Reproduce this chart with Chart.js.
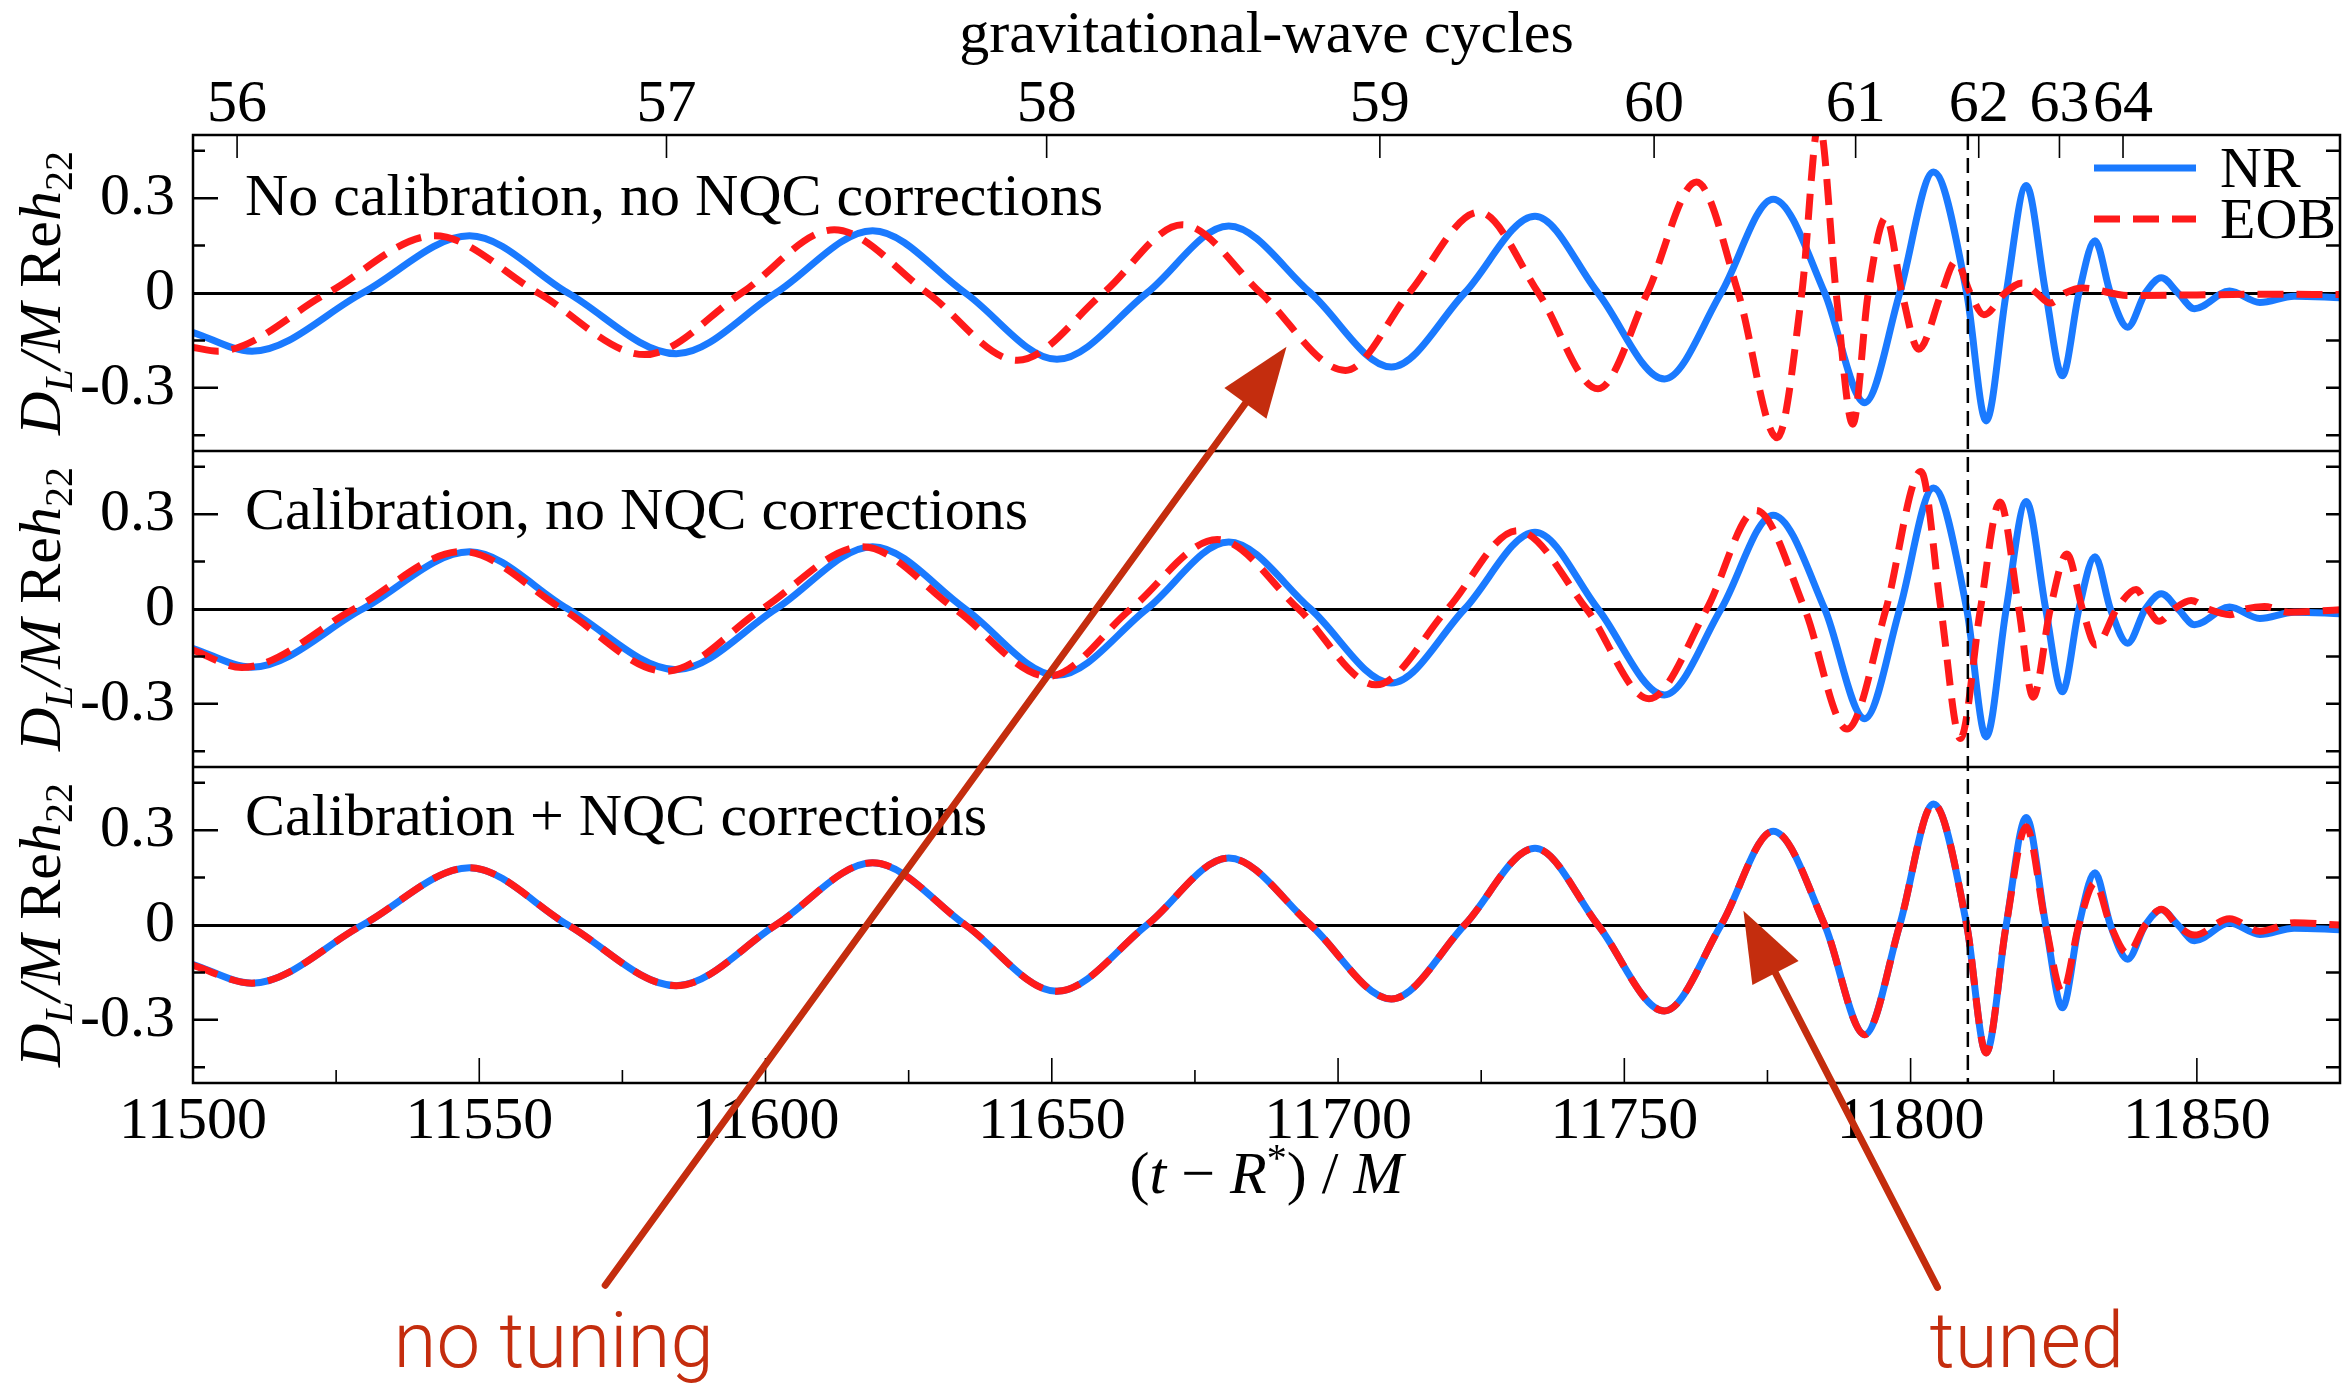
<!DOCTYPE html>
<html lang="en">
<head>
<meta charset="UTF-8">
<title>EOB vs NR waveforms near merger</title>
<script src="https://cdn.jsdelivr.net/npm/chart.js@4.4.1/dist/chart.umd.min.js"></script>
<style>
  html, body { margin: 0; padding: 0; background: #fff; }
  #wrap { width: 2344px; height: 1384px; }
</style>
</head>
<body>
<div id="wrap"><canvas id="wave" width="2344" height="1384"></canvas></div>
<script>
// time axis (t - R*)/M and gravitational-wave cycle marks on the top axis
const timeMin = 11500;
const timeMax = 11875;
const cycleTimes  = [11507.7, 11582.7, 11649.1, 11707.3, 11755.2, 11790.4, 11811.9, 11826.0, 11837.1];
const cycleLabels = ['56', '57', '58', '59', '60', '61', '62', '63', '64'];
const mergerTime = 11810;

// strain ticks shared by the three panels
const strainTicks   = [-0.45, -0.3, -0.15, 0, 0.15, 0.3, 0.45];
const strainLabeled = [-0.3, 0, 0.3];

const panelCaptions = [
  'No calibration, no NQC corrections',
  'Calibration, no NQC corrections',
  'Calibration + NQC corrections'
];

// numerical relativity waveform (same in every panel)
const nrTime = [11500, 11510.3, 11529.6, 11548.3, 11565.5, 11584.4, 11601.8, 11618.7, 11634.9, 11650.9,
  11666.6, 11680.9, 11695.2, 11709.3, 11722.1, 11734.4, 11745.4, 11757.0, 11766.9, 11776.0,
  11785.0, 11792.0, 11798.1, 11804.0, 11809.8, 11813.2, 11816.7, 11820.2, 11823.6, 11826.5,
  11829.4, 11832.2, 11834.9, 11837.9, 11841.0, 11843.8, 11846.7, 11849.6, 11855.7, 11861.0,
  11867.0, 11875];
const nrStrain = [-0.125, -0.184, 0, 0.181, 0, -0.192, 0, 0.197, 0, -0.21,
  0, 0.212, 0, -0.234, 0, 0.243, 0, -0.272, 0, 0.297,
  0, -0.347, 0, 0.383, 0, -0.405, 0, 0.34, 0, -0.262,
  0, 0.165, 0, -0.108, 0, 0.048, 0, -0.05, 0.006, -0.03,
  -0.01, -0.015];

// EOB, no calibration, no NQC
const eobTopTime = [11500, 11504.3, 11523.5, 11542.2, 11560.3, 11578.9, 11595.8, 11612.0, 11628.3, 11644.0,
  11659.0, 11672.8, 11686.5, 11701.3, 11712.4, 11724.6, 11735.0, 11745.4, 11754.0, 11762.6,
  11769.9, 11776.7, 11781.0, 11784.0, 11787.0, 11789.9, 11792.6, 11795.7, 11798.5, 11801.4,
  11805.4, 11807.9, 11810.4, 11812.8, 11816.5, 11819.5, 11822.0, 11824.4, 11827.0, 11830.0,
  11838.0, 11850.0, 11862.0, 11875];
const eobTopStrain = [-0.172, -0.184, 0, 0.181, 0, -0.195, 0, 0.2, 0, -0.213,
  0, 0.216, 0, -0.245, 0, 0.256, 0, -0.303, 0, 0.351,
  0, -0.458, 0, 0.54, 0, -0.415, 0, 0.24, 0, -0.178,
  0, 0.101, 0, -0.069, 0, 0.032, 0, -0.032, 0, 0.016,
  -0.008, -0.006, -0.004, -0.005];

// EOB, calibrated, no NQC
const eobMidTime = [11500, 11508.5, 11528.1, 11547.0, 11564.5, 11582.5, 11599.4, 11616.9, 11633.1, 11649.4,
  11663.8, 11678.9, 11693.1, 11706.6, 11719.1, 11731.3, 11743.4, 11754.3, 11764.4, 11773.0,
  11781.5, 11788.9, 11795.7, 11801.8, 11805.3, 11808.7, 11812.2, 11815.6, 11818.9, 11821.4,
  11824.4, 11827.3, 11830.0, 11832.4, 11836.0, 11839.4, 11841.5, 11843.4, 11846.0, 11849.0,
  11852.0, 11855.8, 11858.5, 11861.8, 11866.0, 11875];
const eobMidStrain = [-0.13, -0.185, 0, 0.182, 0, -0.197, 0, 0.197, 0, -0.213,
  0, 0.22, 0, -0.24, 0, 0.248, 0, -0.284, 0, 0.312,
  0, -0.38, 0, 0.435, 0, -0.41, 0, 0.339, 0, -0.279,
  0, 0.174, 0, -0.114, 0, 0.062, 0, -0.039, 0, 0.027,
  0, -0.018, 0, 0.008, -0.01, -0.002];

// EOB, calibrated + NQC (sampled at the NR times)
const eobBotStrain = [-0.128, -0.184, 0, 0.181, 0, -0.192, 0, 0.197, 0, -0.21,
  0, 0.212, 0, -0.234, 0, 0.243, 0, -0.272, 0, 0.297,
  0, -0.347, 0, 0.383, 0, -0.405, 0, 0.311, 0, -0.213,
  0, 0.133, 0, -0.09, 0, 0.05, -0.003, -0.032, 0.02, -0.02,
  0.007, 0];

const nrBlue = '#1a7aff';
const eobRed = '#ff1a1a';
const noteRed = '#c42d0e';
const serif = '"Liberation Serif", "Times New Roman", serif';

function wave(label, times, values, yAxisID, color, dash, order) {
  return {
    label, yAxisID, xAxisID: 'x', order,
    data: times.map((t, i) => ({ x: t, y: values[i] })),
    borderColor: color, borderWidth: 7, borderDash: dash,
    pointRadius: 0, fill: false, cubicInterpolationMode: 'monotone'
  };
}

function strainAxis() {
  return {
    type: 'linear', position: 'left', stack: 'panels', stackWeight: 1,
    min: -0.5, max: 0.5,
    afterBuildTicks: s => { s.ticks = strainTicks.map(v => ({ value: v })); },
    afterFit: s => { s.width = 193; },
    border: { display: false },
    grid: {
      drawTicks: false,
      color: c => (c.tick && c.tick.value === 0 ? '#000' : 'rgba(0,0,0,0)'),
      lineWidth: c => (c.tick && c.tick.value === 0 ? 3 : 0)
    },
    ticks: {
      autoSkip: false, padding: 18, color: '#000',
      font: { family: serif, size: 60 },
      callback: v => (strainLabeled.includes(v) ? String(v) : '')
    }
  };
}

// draw a row of text pieces with their own fonts and vertical shifts
function drawRuns(ctx, x, y, runs, align) {
  let w = 0;
  runs.forEach(r => { ctx.font = r[1]; w += ctx.measureText(r[0]).width; });
  let cx = align === 'center' ? x - w / 2 : x;
  runs.forEach(r => {
    ctx.font = r[1];
    ctx.fillText(r[0], cx, y + (r[2] || 0));
    cx += ctx.measureText(r[0]).width;
  });
}

const panelIds = ['yTop', 'yMid', 'yBot'];
const captionDrop = [80, 78, 68];

const notes = [
  { text: 'no tuning', tip: [11691, 'yTop', -0.17], tail: [11572, 'yBot', -1.14], label: [11563, 'yBot', -1.40] },
  { text: 'tuned', tip: [11770.8, 'yBot', 0.045], tail: [11804.7, 'yBot', -1.147], label: [11820.3, 'yBot', -1.40] }
];

const decorations = {
  id: 'decorations',
  afterDatasetsDraw(chart) {
    const { ctx, chartArea: a, scales } = chart;
    ctx.save();
    // merger marker
    const xm = scales.x.getPixelForValue(mergerTime);
    ctx.strokeStyle = '#000';
    ctx.lineWidth = 2.5;
    ctx.setLineDash([15, 8]);
    ctx.beginPath();
    ctx.moveTo(xm, a.top);
    ctx.lineTo(xm, a.bottom);
    ctx.stroke();
    ctx.setLineDash([]);

    // panel frames and inward ticks
    ctx.lineWidth = 2.5;
    ctx.beginPath();
    panelIds.forEach(id => {
      const s = scales[id];
      ctx.rect(a.left, s.top, a.right - a.left, s.bottom - s.top);
      strainTicks.forEach(v => {
        if (v === 0) return;
        const y = s.getPixelForValue(v);
        const len = strainLabeled.includes(v) ? 25 : 12;
        ctx.moveTo(a.left, y); ctx.lineTo(a.left + len, y);
        ctx.moveTo(a.right, y); ctx.lineTo(a.right - 14, y);
      });
    });
    ctx.stroke();
    ctx.lineWidth = 1.6;
    ctx.beginPath();
    for (let t = timeMin + 25; t < timeMax; t += 25) {
      const x = scales.x.getPixelForValue(t);
      const len = t % 50 === 0 ? 25 : 13;
      ctx.moveTo(x, a.bottom); ctx.lineTo(x, a.bottom - len);
    }
    cycleTimes.forEach(t => {
      const x = scales.x2.getPixelForValue(t);
      ctx.moveTo(x, a.top); ctx.lineTo(x, a.top + 23);
    });
    ctx.stroke();

    // captions
    ctx.fillStyle = '#000';
    ctx.textBaseline = 'alphabetic';
    ctx.textAlign = 'left';
    ctx.font = '60px ' + serif;
    panelIds.forEach((id, i) => {
      ctx.fillText(panelCaptions[i], a.left + 52, scales[id].top + captionDrop[i]);
    });

    // legend from the top panel datasets
    const rows = chart.data.datasets.filter(d => d.yAxisID === 'yTop')
      .sort((p, q) => q.order - p.order);
    ctx.font = '58px ' + serif;
    rows.forEach((d, i) => {
      const y = a.top + 33 + i * 51;
      ctx.strokeStyle = d.borderColor;
      ctx.lineWidth = d.borderWidth;
      ctx.setLineDash(d.borderDash || []);
      ctx.beginPath();
      ctx.moveTo(a.right - 246, y);
      ctx.lineTo(a.right - 144, y);
      ctx.stroke();
      ctx.setLineDash([]);
      ctx.fillText(d.label, a.right - 120, y + 19);
    });

    // y titles
    const it = 'italic 60px ' + serif, rm = '60px ' + serif;
    const itS = 'italic 40px ' + serif, rmS = '40px ' + serif;
    panelIds.forEach(id => {
      const s = scales[id];
      ctx.save();
      ctx.translate(60, (s.top + s.bottom) / 2);
      ctx.rotate(-Math.PI / 2);
      drawRuns(ctx, 0, 0, [['D', it], ['L', itS, 12], ['/', it], ['M', it], [' Re', rm], ['h', it], ['22', rmS, 12]], 'center');
      ctx.restore();
    });

    // x title
    drawRuns(ctx, (a.left + a.right) / 2, a.bottom + 110,
      [['(', rm], ['t', it], [' \u2212 ', rm], ['R', it], ['*', rmS, -22], [') / ', rm], ['M', it]], 'center');

    // hand-drawn notes
    const at = p => [scales.x.getPixelForValue(p[0]), scales[p[1]].getPixelForValue(p[2])];
    ctx.strokeStyle = noteRed;
    ctx.fillStyle = noteRed;
    ctx.lineCap = 'round';
    notes.forEach(n => {
      const [tx, ty] = at(n.tip), [bx, by] = at(n.tail);
      const dx = tx - bx, dy = ty - by, L = Math.hypot(dx, dy);
      const ux = dx / L, uy = dy / L, nx = -uy, ny = ux;
      const hl = 70, hw = 26;
      ctx.lineWidth = 7;
      ctx.beginPath();
      ctx.moveTo(bx, by);
      ctx.lineTo(tx - ux * hl * 0.8, ty - uy * hl * 0.8);
      ctx.stroke();
      ctx.beginPath();
      ctx.moveTo(tx, ty);
      ctx.lineTo(tx - ux * hl + nx * hw, ty - uy * hl + ny * hw);
      ctx.lineTo(tx - ux * hl - nx * hw, ty - uy * hl - ny * hw);
      ctx.closePath();
      ctx.fill();
      const [lx, ly] = at(n.label);
      ctx.font = '300 78px Roboto, "Liberation Sans", sans-serif';
      ctx.textAlign = 'center';
      ctx.fillText(n.text, lx, ly);
      ctx.textAlign = 'left';
    });
    ctx.restore();
  }
};

new Chart(document.getElementById('wave'), {
  type: 'line',
  data: {
    datasets: [
      wave('NR', nrTime, nrStrain, 'yTop', nrBlue, [], 2),
      wave('EOB', eobTopTime, eobTopStrain, 'yTop', eobRed, [26, 13], 1),
      wave('NR', nrTime, nrStrain, 'yMid', nrBlue, [], 2),
      wave('EOB', eobMidTime, eobMidStrain, 'yMid', eobRed, [26, 13], 1),
      wave('NR', nrTime, nrStrain, 'yBot', nrBlue, [], 2),
      wave('EOB', nrTime, eobBotStrain, 'yBot', eobRed, [26, 13], 1)
    ]
  },
  options: {
    responsive: false,
    animation: false,
    events: [],
    layout: { padding: { left: 0, right: 4, top: 0, bottom: 0 } },
    plugins: { legend: { display: false }, tooltip: { enabled: false } },
    scales: {
      x: {
        type: 'linear', position: 'bottom', min: timeMin, max: timeMax,
        afterBuildTicks: s => {
          const t = [];
          for (let v = timeMin; v <= timeMax; v += 25) t.push({ value: v });
          s.ticks = t;
        },
        afterFit: s => { s.height = 301; },
        border: { display: false },
        grid: { display: false },
        ticks: {
          autoSkip: false, maxRotation: 0, padding: -5, color: '#000',
          font: { family: serif, size: 60 },
          callback: v => (v % 50 === 0 && v < timeMax ? String(v) : '')
        }
      },
      x2: {
        type: 'linear', position: 'top', min: timeMin, max: timeMax,
        afterBuildTicks: s => { s.ticks = cycleTimes.map(v => ({ value: v })); },
        afterFit: s => { s.height = 135; },
        border: { display: false },
        grid: { display: false },
        title: {
          display: true, text: 'gravitational-wave cycles', color: '#000',
          font: { family: serif, size: 60 }, padding: { top: 0, bottom: 0 }
        },
        ticks: {
          autoSkip: false, maxRotation: 0, padding: -14, color: '#000',
          font: { family: serif, size: 60 },
          callback: (v, i) => cycleLabels[i]
        }
      },
      yBot: strainAxis(),
      yMid: strainAxis(),
      yTop: strainAxis()
    }
  },
  plugins: [decorations]
});
</script>
</body>
</html>
